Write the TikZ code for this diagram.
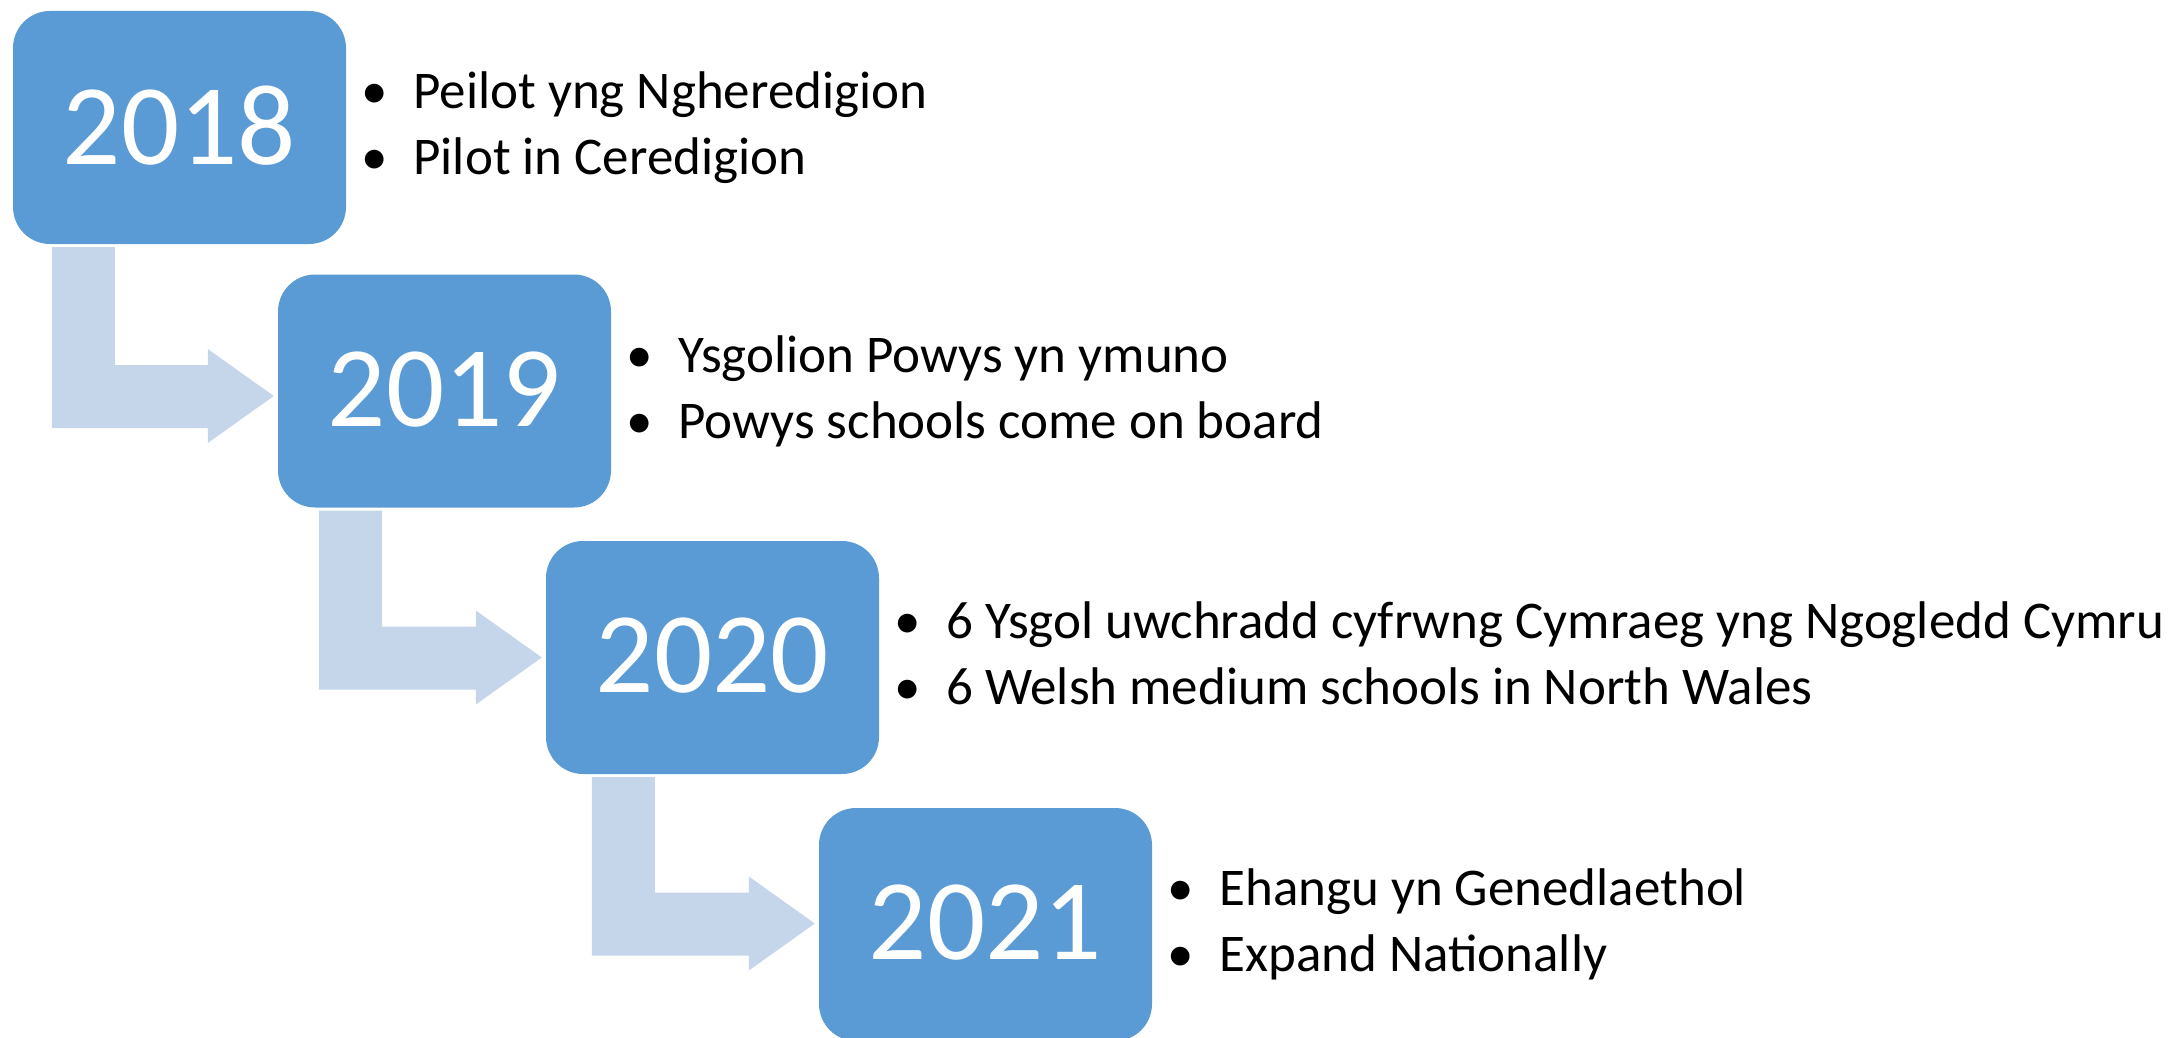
\documentclass[tikz,border=0pt]{standalone}
\usepackage{fontspec}
\setmainfont{Carlito}
\usetikzlibrary{calc}
\definecolor{boxblue}{HTML}{5B9BD5}
\definecolor{arrowblue}{HTML}{C5D5EA}
\tikzset{
  yearbox/.style={rectangle, rounded corners=37pt, fill=boxblue, minimum width=333pt, minimum height=233pt, inner sep=0pt, text=white, font=\fontsize{115}{138}\selectfont},
  itemtext/.style={anchor=base west, inner sep=0pt, font=\fontsize{53}{64}\selectfont},
  bulletmark/.style={anchor=base, inner sep=0pt, font=\fontsize{53}{64}\selectfont},
  bendarrow/.style={fill=arrowblue},
}
\begin{document}
\begin{tikzpicture}[x=1pt,y=-1pt]
\useasboundingbox (0,0) rectangle (2172,1038);
% year boxes
\node[yearbox] (y1) at (179.5,127.5) {\raisebox{4pt}{2018}};
\node[yearbox] (y2) at (444.5,391) {\raisebox{4pt}{2019}};
\node[yearbox] (y3) at (712.5,657.5) {\raisebox{4pt}{2020}};
\node[yearbox] (y4) at (985.5,924.5) {\raisebox{4pt}{2021}};
% bent arrows: shaft offset from box west, tip offset from next box centre
\foreach \a/\b/\s/\d in {y1/y2/39/5, y2/y3/41/0, y3/y4/46/-1}{
  \fill[bendarrow] let \p1=(\a.south west), \p2=(\b.west) in
    (\x1+\s pt,\y1-3pt) -- (\x1+\s pt+63pt,\y1-3pt) -- (\x1+\s pt+63pt,\y2-\d pt+31pt)
    -- (\x2-70pt,\y2-\d pt+31pt) -- (\x2-70pt,\y2-\d pt+47pt) -- (\x2-4pt,\y2-\d pt)
    -- (\x2-70pt,\y2-\d pt-47pt) -- (\x2-70pt,\y2-\d pt-32pt) -- (\x1+\s pt,\y2-\d pt-32pt) -- cycle;
}
% bullet texts
\foreach \n/\ta/\tb in {1/Peilot yng Ngheredigion/Pilot in Ceredigion,
  2/Ysgolion Powys yn ymuno/Powys schools come on board,
  3/6 Ysgol uwchradd cyfrwng Cymraeg yng Ngogledd Cymru/6 Welsh medium schools in North Wales,
  4/Ehangu yn Genedlaethol/Expand Nationally}{
  \node[bulletmark] (ba\n) at ($(y\n.east)+(28,-19)$) {•};
  \node[itemtext] (ta\n) at ($(y\n.east)+(67,-19)$) {\ta};
  \node[bulletmark] (bb\n) at ($(y\n.east)+(28,47)$) {•};
  \node[itemtext] (tb\n) at ($(y\n.east)+(67,47)$) {\tb};
}
\end{tikzpicture}
\end{document}
